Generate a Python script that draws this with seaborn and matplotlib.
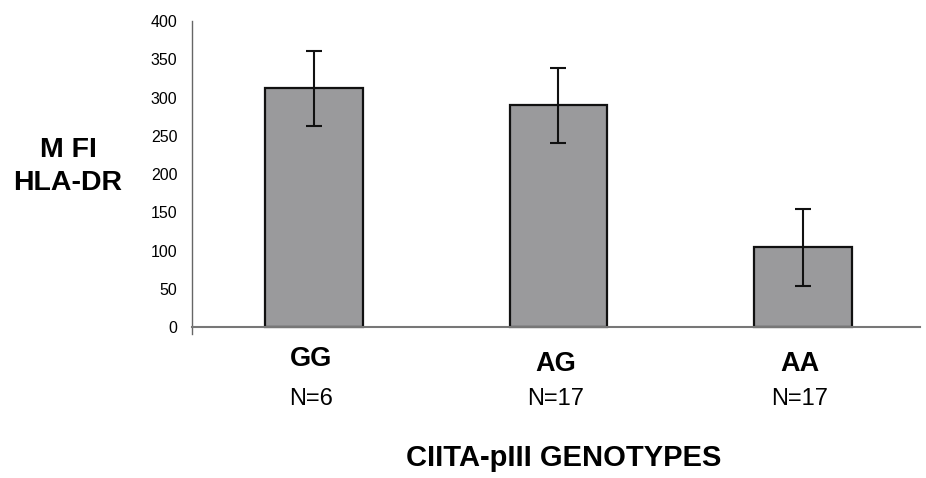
import pandas as pd
import matplotlib.pyplot as plt
import seaborn as sns

genotypes = ["GG", "AG", "AA"]
n_labels = ["N=6", "N=17", "N=17"]
mfi_mean = [312, 290, 104]
mfi_err = [49, 49, 50]

df = pd.DataFrame({"genotype": genotypes, "mfi": mfi_mean})

sns.set_style("white")
plt.rcParams["font.family"] = ["Liberation Sans", "DejaVu Sans"]
plt.rcParams["text.color"] = "black"
plt.rcParams["ytick.labelcolor"] = "black"

fig = plt.figure(figsize=(9.26, 4.78), dpi=100)
ax = fig.add_axes([192 / 926, 1 - 334 / 478, 728 / 926, 313 / 478])

sns.barplot(data=df, x="genotype", y="mfi", color="#9a9a9c",
            edgecolor="#111111", linewidth=1.6, width=0.4,
            saturation=1, errorbar=None, ax=ax)
ax.errorbar(range(len(genotypes)), mfi_mean, yerr=mfi_err, fmt="none",
            ecolor="#111111", elinewidth=1.5, capsize=5.5, capthick=1.5)

ax.set_xlim(-0.5, 2.48)
ax.set_ylim(-9.1, 400)
ax.set_yticks(range(0, 401, 50))
ax.tick_params(axis="y", direction="out", length=6.5, width=1,
               color="#555555", labelsize=11.5, labelcolor="black", pad=4)
ax.tick_params(axis="x", bottom=False, labelbottom=False)
ax.set_xlabel("")
ax.set_ylabel("")

for s in ["top", "right"]:
    ax.spines[s].set_visible(False)
ax.spines["left"].set_color("#666666")
ax.spines["left"].set_linewidth(1)
ax.spines["bottom"].set_position(("data", 0))
ax.spines["bottom"].set_color("#777777")
ax.spines["bottom"].set_linewidth(1.5)

# genotype + N labels under each bar
label_y = [359, 364, 364]
for i, (g, n) in enumerate(zip(genotypes, n_labels)):
    xfig = ax.transData.transform((i, 0))[0] / fig.bbox.width
    fig.text(xfig - 0.003, 1 - label_y[i] / 478, g, ha="center", va="center",
             fontsize=19.5, fontweight="bold")
    fig.text(xfig - 0.003, 1 - 399 / 478, n, ha="center", va="center",
             fontsize=17)

fig.text(68 / 926, 1 - 150 / 478, "M FI", ha="center", va="center",
         fontsize=20.5, fontweight="bold")
fig.text(68 / 926, 1 - 183 / 478, "HLA-DR", ha="center", va="center",
         fontsize=20.5, fontweight="bold")

fig.text(564 / 926, 1 - 458 / 478, "CIITA-pIII GENOTYPES", ha="center",
         va="center", fontsize=21, fontweight="bold")

fig.savefig("out.png", dpi=100)
